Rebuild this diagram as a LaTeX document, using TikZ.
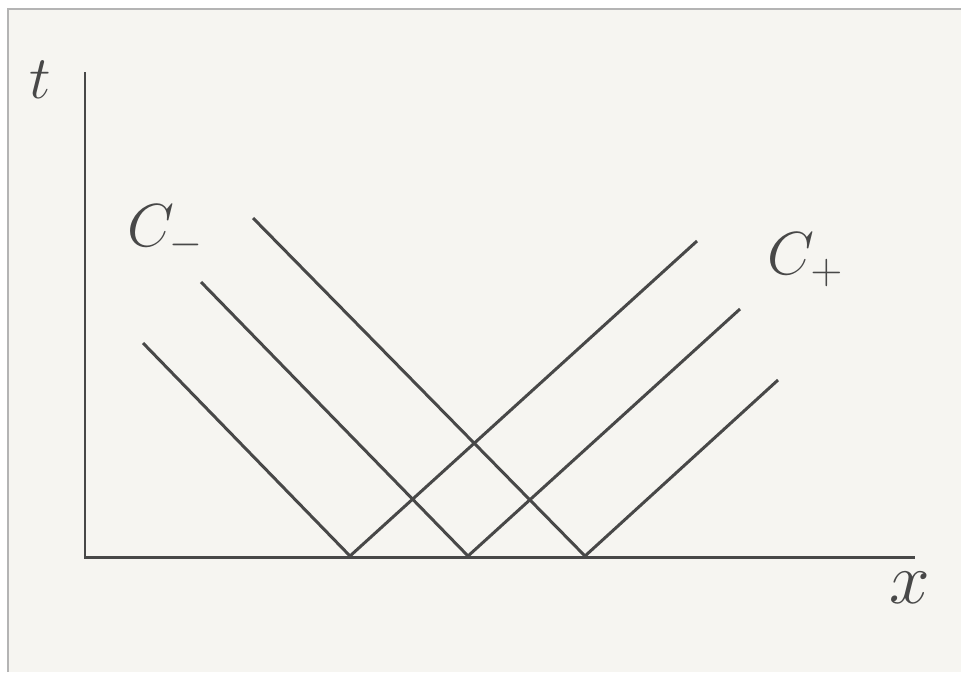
\documentclass[tikz,border=0pt]{standalone}
\usepackage{xcolor}
\usetikzlibrary{positioning,calc}
\definecolor{PaperBack}{HTML}{F6F5F1}
\definecolor{PaperEdge}{HTML}{B4B4B4}
\definecolor{InkMain}{HTML}{484848}
\tikzset{
  axisline/.style={draw=InkMain,line width=0.85pt},
  charline/.style={draw=InkMain,line width=0.85pt},
  axislabel/.style={text=InkMain,font=\LARGE}
}

\begin{document}
\begin{tikzpicture}[x=0.01cm,y=-0.01cm]
 \useasboundingbox (0,0) rectangle (961,672);
 \fill[white] (0,0) rectangle (961,672);
 \fill[PaperBack] (8,9) rectangle (961,672);
 \draw[PaperEdge,line width=0.6pt] (8,672) -- (8,9) -- (961,9);
 % axes
 \coordinate (origin) at (85,557);
 \coordinate (ttop) at (85,72);
 \coordinate (xend) at (915,557);
 \draw[axisline] (ttop) -- (origin) -- (xend);
 \node[axislabel] (tlab) at (40,80) {$t$};
 \node[axislabel,font=\huge] (xlab) at (910,588) {$x$};
 % feet of the characteristics
 \coordinate (b1) at (350,556);
 \coordinate (b2) at (468,556);
 \coordinate (b3) at (585,556);
 % C- family
 \coordinate (m1) at (143,343);
 \coordinate (m2) at (201,282);
 \coordinate (m3) at (253,218);
 \draw[charline] (m1) -- (b1);
 \draw[charline] (m2) -- (b2);
 \draw[charline] (m3) -- (b3);
 % C+ family
 \coordinate (p1) at (697,241);
 \coordinate (p2) at (740,309);
 \coordinate (p3) at (778,380);
 \draw[charline] (b1) -- (p1);
 \draw[charline] (b2) -- (p2);
 \draw[charline] (b3) -- (p3);
 \node[axislabel] (cminus) at (166,232) {$C_-$};
 \node[axislabel] (cplus) at (806,260) {$C_+$};
\end{tikzpicture}
\end{document}
